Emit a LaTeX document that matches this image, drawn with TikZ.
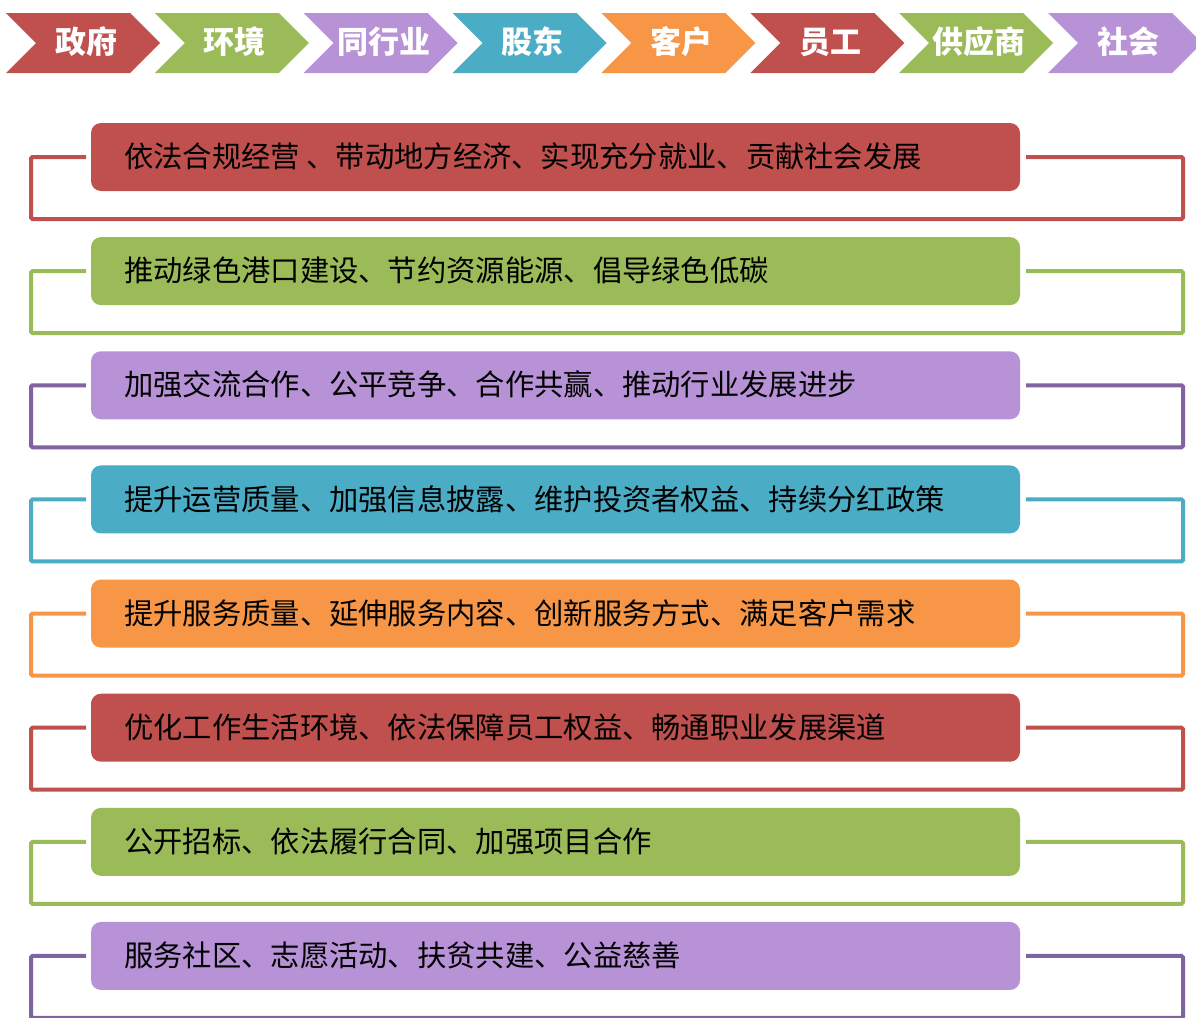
\documentclass[tikz,border=0pt]{standalone}
\usepackage{fontspec}
\newfontfamily\cjk{Noto Sans CJK SC}
\definecolor{cred}{HTML}{C0504D}
\definecolor{cgreen}{HTML}{9BBB59}
\definecolor{cpurple}{HTML}{B892D6}
\definecolor{cpurpleline}{HTML}{8064A2}
\definecolor{cteal}{HTML}{4BACC6}
\definecolor{corange}{HTML}{F79646}
\tikzset{
  chev/.style={fill=#1, draw=none},
  chevtext/.style={text=white, font=\cjk\bfseries\fontsize{31pt}{32pt}\selectfont, inner sep=0pt},
  rowbox/.style={fill=#1, draw=none, rounded corners=10pt},
  rowtext/.style={text=black, font=\cjk\fontsize{29.3pt}{31pt}\selectfont, inner sep=0pt, anchor=west},
  bracket/.style={draw=#1, line width=4pt, rounded corners=1.5pt}
}
\begin{document}
\begin{tikzpicture}[x=1pt,y=-1pt]
\useasboundingbox (0,0) rectangle (1196,1017);
\fill[white] (0,0) rectangle (1196,1017);
\begin{scope}
\clip (0,0) rectangle (1196,1017);
% chevrons
\foreach \i/\c/\t in {0/cred/政府,1/cgreen/环境,2/cpurple/同行业,3/cteal/股东,4/corange/客户,5/cred/员工,6/cgreen/供应商,7/cpurple/社会}{
  \pgfmathsetmacro{\xo}{6+148.86*\i}
  \fill[chev=\c] (\xo,13) -- ({\xo+124},13) -- ({\xo+154},43) -- ({\xo+124},73) -- (\xo,73) -- ({\xo+30},43) -- cycle;
  \node[chevtext] (chev\i) at ({\xo+80},42) {\t};
}
% rows
\foreach \j/\c/\lc/\t in {
  0/cred/cred/{依法合规经营 、带动地方经济、实现充分就业、贡献社会发展},
  1/cgreen/cgreen/{推动绿色港口建设、节约资源能源、倡导绿色低碳},
  2/cpurple/cpurpleline/{加强交流合作、公平竞争、合作共赢、推动行业发展进步},
  3/cteal/cteal/{提升运营质量、加强信息披露、维护投资者权益、持续分红政策},
  4/corange/corange/{提升服务质量、延伸服务内容、创新服务方式、满足客户需求},
  5/cred/cred/{优化工作生活环境、依法保障员工权益、畅通职业发展渠道},
  6/cgreen/cgreen/{公开招标、依法履行合同、加强项目合作},
  7/cpurple/cpurpleline/{服务社区、志愿活动、扶贫共建、公益慈善}}{
  \pgfmathsetmacro{\yt}{123+114.14*\j}
  \pgfmathsetmacro{\yl}{\yt+34}
  \coordinate (la\j) at (86,\yl);
  \coordinate (ra\j) at (1026,\yl);
  \draw[bracket=\lc] (la\j) -- (31,\yl) -- (31,{\yl+62}) -- (1183,{\yl+62}) -- (1183,\yl) -- (ra\j);
  \fill[rowbox=\c] (91,\yt) rectangle (1020,{\yt+68});
  \node[rowtext] (row\j) at (124,{\yt+33.5}) {\t};
}
\end{scope}
\end{tikzpicture}
\end{document}
